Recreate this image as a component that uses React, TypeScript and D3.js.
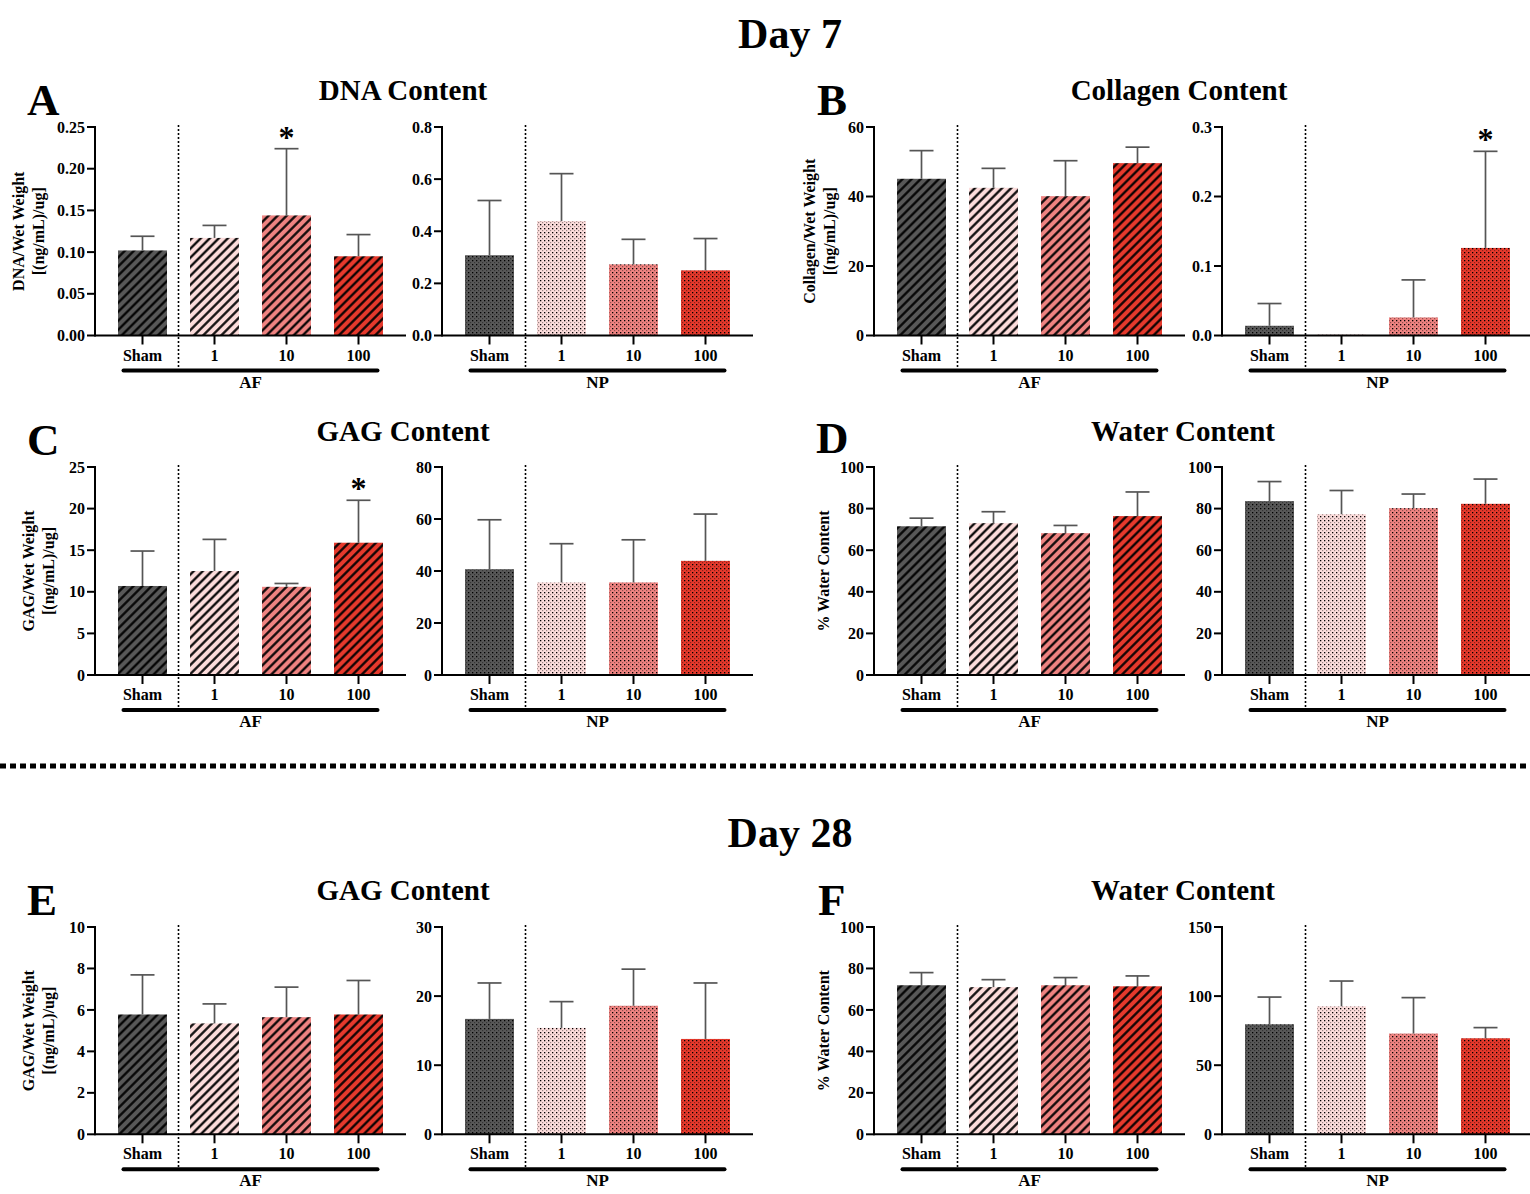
import React from 'react';
import * as d3 from 'd3';

// groups on the x axis
const categories = ['Sham', '1', '10', '100'];
const barColors = ['#585858', '#fcdcdb', '#ef8381', '#e6392c'];

// Day 7
const dnaAfMean = [0.102, 0.117, 0.144, 0.095];
const dnaAfSd = [0.017, 0.015, 0.080, 0.026];
const dnaNpMean = [0.308, 0.439, 0.273, 0.250];
const dnaNpSd = [0.210, 0.182, 0.096, 0.122];
const colAfMean = [45.1, 42.5, 40.1, 49.6];
const colAfSd = [8.1, 5.6, 10.2, 4.6];
const colNpMean = [0.014, 0.0005, 0.026, 0.126];
const colNpSd = [0.032, 0, 0.054, 0.139];
const gagAfMean7 = [10.7, 12.5, 10.6, 15.9];
const gagAfSd7 = [4.2, 3.8, 0.4, 5.1];
const gagNpMean7 = [40.7, 35.6, 35.6, 43.9];
const gagNpSd7 = [19.0, 14.9, 16.4, 18.0];
const waterAfMean7 = [71.5, 73.0, 68.2, 76.4];
const waterAfSd7 = [3.9, 5.5, 3.7, 11.6];
const waterNpMean7 = [83.6, 77.3, 80.2, 82.3];
const waterNpSd7 = [9.4, 11.4, 6.8, 11.9];

// Day 28
const gagAfMean28 = [5.78, 5.35, 5.65, 5.78];
const gagAfSd28 = [1.91, 0.94, 1.45, 1.64];
const gagNpMean28 = [16.7, 15.4, 18.6, 13.8];
const gagNpSd28 = [5.2, 3.8, 5.3, 8.1];
const waterAfMean28 = [71.9, 71.0, 71.9, 71.4];
const waterAfSd28 = [6.1, 3.6, 3.7, 5.0];
const waterNpMean28 = [79.6, 92.6, 72.9, 69.5];
const waterNpSd28 = [19.7, 18.3, 26.0, 7.7];

const FONT = '"Liberation Serif", "Times New Roman", serif';

type Spec = {
  x0: number;
  top: number;
  zero: number;
  max: number;
  step: number;
  fmt: string;
  mean: number[];
  sd: number[];
  group: 'AF' | 'NP';
  star?: number;
  title?: string[];
  titleX?: number;
};

const AXIS_LEN = 311;

function Plot({ s }: { s: Spec }) {
  const y = d3.scaleLinear().domain([0, s.max]).range([s.zero, s.top]);
  const x = d3
    .scaleBand<string>()
    .domain(categories)
    .range([s.x0 + 11.5, s.x0 + 299.5])
    .paddingInner(0.32)
    .paddingOuter(0.16);
  const bw = x.bandwidth();
  const cx = (c: string) => (x(c) as number) + bw / 2;
  const ticks = d3.range(0, s.max + s.step / 2, s.step);
  const f = d3.format(s.fmt);
  const sepX = (cx(categories[0]) + cx(categories[1])) / 2;
  const bx1 = cx(categories[0]) - 19;
  const bx2 = cx(categories[3]) + 19;
  const pat = s.group === 'AF' ? 'hatch' : 'dots';
  const midY = (s.top + s.zero) / 2;

  return (
    <g>
      {categories.map((c, i) => {
        const yt = y(s.mean[i]);
        const h = Math.max(1, s.zero - yt);
        const yc = y(s.mean[i] + s.sd[i]);
        return (
          <g key={c}>
            <rect x={x(c)} y={s.zero - h} width={bw} height={h} fill={`url(#${pat}-${i})`} />
            {s.sd[i] > 0 && (
              <g stroke="#555" strokeWidth={1.7}>
                <line x1={cx(c)} x2={cx(c)} y1={yt} y2={yc} />
                <line x1={cx(c) - 12} x2={cx(c) + 12} y1={yc} y2={yc} />
              </g>
            )}
            {s.star === i && (
              <text x={cx(c)} y={yc - 1} textAnchor="middle" fontSize={32} fontWeight="bold" fontFamily={FONT}>
                *
              </text>
            )}
          </g>
        );
      })}
      {/* y axis */}
      <line x1={s.x0} x2={s.x0} y1={s.top - 1} y2={s.zero + 1} stroke="#000" strokeWidth={2} />
      {ticks.map((t) => (
        <g key={t}>
          <line x1={s.x0 - 8} x2={s.x0} y1={y(t)} y2={y(t)} stroke="#000" strokeWidth={2} />
          <text
            x={s.x0 - 10}
            y={y(t)}
            dy="0.35em"
            textAnchor="end"
            fontSize={16}
            fontWeight="bold"
            fontFamily={FONT}
          >
            {f(t)}
          </text>
        </g>
      ))}
      {/* x axis */}
      <line x1={s.x0} x2={s.x0 + AXIS_LEN} y1={s.zero} y2={s.zero} stroke="#000" strokeWidth={2} />
      {categories.map((c) => (
        <g key={c}>
          <line x1={cx(c)} x2={cx(c)} y1={s.zero} y2={s.zero + 9} stroke="#000" strokeWidth={2} />
          <text x={cx(c)} y={s.zero + 25} textAnchor="middle" fontSize={16} fontWeight="bold" fontFamily={FONT}>
            {c}
          </text>
        </g>
      ))}
      <line
        x1={sepX}
        x2={sepX}
        y1={s.top - 2}
        y2={s.zero + 34}
        stroke="#000"
        strokeWidth={1.6}
        strokeDasharray="2 2"
      />
      <line x1={bx1} x2={bx2} y1={s.zero + 35} y2={s.zero + 35} stroke="#000" strokeWidth={4} strokeLinecap="round" />
      <text
        x={(bx1 + bx2) / 2}
        y={s.zero + 52}
        textAnchor="middle"
        fontSize={17}
        fontWeight="bold"
        fontFamily={FONT}
      >
        {s.group}
      </text>
      {s.title &&
        s.title.map((line, k) => (
          <text
            key={k}
            transform={`translate(${(s.titleX as number) + k * 20},${midY}) rotate(-90)`}
            textAnchor="middle"
            dy="0.35em"
            fontSize={16}
            fontWeight="bold"
            fontFamily={FONT}
          >
            {line}
          </text>
        ))}
    </g>
  );
}

const ROWS = [
  { top: 127, zero: 335.5 },
  { top: 467, zero: 675 },
  { top: 927, zero: 1134.3 },
];
const COLS = [95, 442, 874, 1222];
const wetTitle = (name: string) => [`${name}/Wet Weight`, '[(ng/mL)/ug]'];

const specs: Spec[] = [
  { x0: COLS[0], ...ROWS[0], max: 0.25, step: 0.05, fmt: '.2f', mean: dnaAfMean, sd: dnaAfSd, group: 'AF', star: 2, title: wetTitle('DNA'), titleX: 18 },
  { x0: COLS[1], ...ROWS[0], max: 0.8, step: 0.2, fmt: '.1f', mean: dnaNpMean, sd: dnaNpSd, group: 'NP' },
  { x0: COLS[2], ...ROWS[0], max: 60, step: 20, fmt: 'd', mean: colAfMean, sd: colAfSd, group: 'AF', title: wetTitle('Collagen'), titleX: 809 },
  { x0: COLS[3], ...ROWS[0], max: 0.3, step: 0.1, fmt: '.1f', mean: colNpMean, sd: colNpSd, group: 'NP', star: 3 },
  { x0: COLS[0], ...ROWS[1], max: 25, step: 5, fmt: 'd', mean: gagAfMean7, sd: gagAfSd7, group: 'AF', star: 3, title: wetTitle('GAG'), titleX: 28 },
  { x0: COLS[1], ...ROWS[1], max: 80, step: 20, fmt: 'd', mean: gagNpMean7, sd: gagNpSd7, group: 'NP' },
  { x0: COLS[2], ...ROWS[1], max: 100, step: 20, fmt: 'd', mean: waterAfMean7, sd: waterAfSd7, group: 'AF', title: ['% Water Content'], titleX: 823 },
  { x0: COLS[3], ...ROWS[1], max: 100, step: 20, fmt: 'd', mean: waterNpMean7, sd: waterNpSd7, group: 'NP' },
  { x0: COLS[0], ...ROWS[2], max: 10, step: 2, fmt: 'd', mean: gagAfMean28, sd: gagAfSd28, group: 'AF', title: wetTitle('GAG'), titleX: 28 },
  { x0: COLS[1], ...ROWS[2], max: 30, step: 10, fmt: 'd', mean: gagNpMean28, sd: gagNpSd28, group: 'NP' },
  { x0: COLS[2], ...ROWS[2], max: 100, step: 20, fmt: 'd', mean: waterAfMean28, sd: waterAfSd28, group: 'AF', title: ['% Water Content'], titleX: 823 },
  { x0: COLS[3], ...ROWS[2], max: 150, step: 50, fmt: 'd', mean: waterNpMean28, sd: waterNpSd28, group: 'NP' },
];

const panelTitles = [
  { t: 'DNA Content', x: 403, y: 100 },
  { t: 'Collagen Content', x: 1179, y: 100 },
  { t: 'GAG Content', x: 403, y: 441 },
  { t: 'Water Content', x: 1183, y: 441 },
  { t: 'GAG Content', x: 403, y: 900 },
  { t: 'Water Content', x: 1183, y: 900 },
];
const letters = [
  { t: 'A', x: 27, y: 115 },
  { t: 'B', x: 817, y: 115 },
  { t: 'C', x: 27, y: 455 },
  { t: 'D', x: 816, y: 453 },
  { t: 'E', x: 27, y: 915 },
  { t: 'F', x: 818, y: 915 },
];

export default function App() {
  return (
    <svg
      width={1530}
      height={1194}
      style={{ position: 'absolute', left: 0, top: 0, background: '#fff' }}
      fontFamily={FONT}
    >
      <defs>
        {barColors.map((c, i) => (
          <pattern
            key={`h${i}`}
            id={`hatch-${i}`}
            patternUnits="userSpaceOnUse"
            width={6.4}
            height={6.4}
            patternTransform="rotate(45)"
          >
            <rect width={6.4} height={6.4} fill={c} />
            <line x1={3.2} x2={3.2} y1={0} y2={6.4} stroke="#000" strokeWidth={2.2} />
          </pattern>
        ))}
        {barColors.map((c, i) => (
          <pattern key={`d${i}`} id={`dots-${i}`} patternUnits="userSpaceOnUse" width={4} height={4}>
            <rect width={4} height={4} fill={c} />
            <rect x={0} y={0} width={1.3} height={1.3} fill="#000" />
            <rect x={2} y={2} width={1.2} height={1.2} fill="#000" opacity={0.4} />
          </pattern>
        ))}
      </defs>
      <rect width={1530} height={1194} fill="#fff" />
      <text x={790} y={48} textAnchor="middle" fontSize={42} fontWeight="bold">
        Day 7
      </text>
      <text x={790} y={847} textAnchor="middle" fontSize={42} fontWeight="bold">
        Day 28
      </text>
      <line x1={0} x2={1530} y1={766} y2={766} stroke="#000" strokeWidth={5} strokeDasharray="6 4" />
      {panelTitles.map((p, i) => (
        <text key={i} x={p.x} y={p.y} textAnchor="middle" fontSize={29} fontWeight="bold">
          {p.t}
        </text>
      ))}
      {letters.map((p) => (
        <text key={p.t} x={p.x} y={p.y} fontSize={45} fontWeight="bold">
          {p.t}
        </text>
      ))}
      {specs.map((s, i) => (
        <Plot key={i} s={s} />
      ))}
    </svg>
  );
}
